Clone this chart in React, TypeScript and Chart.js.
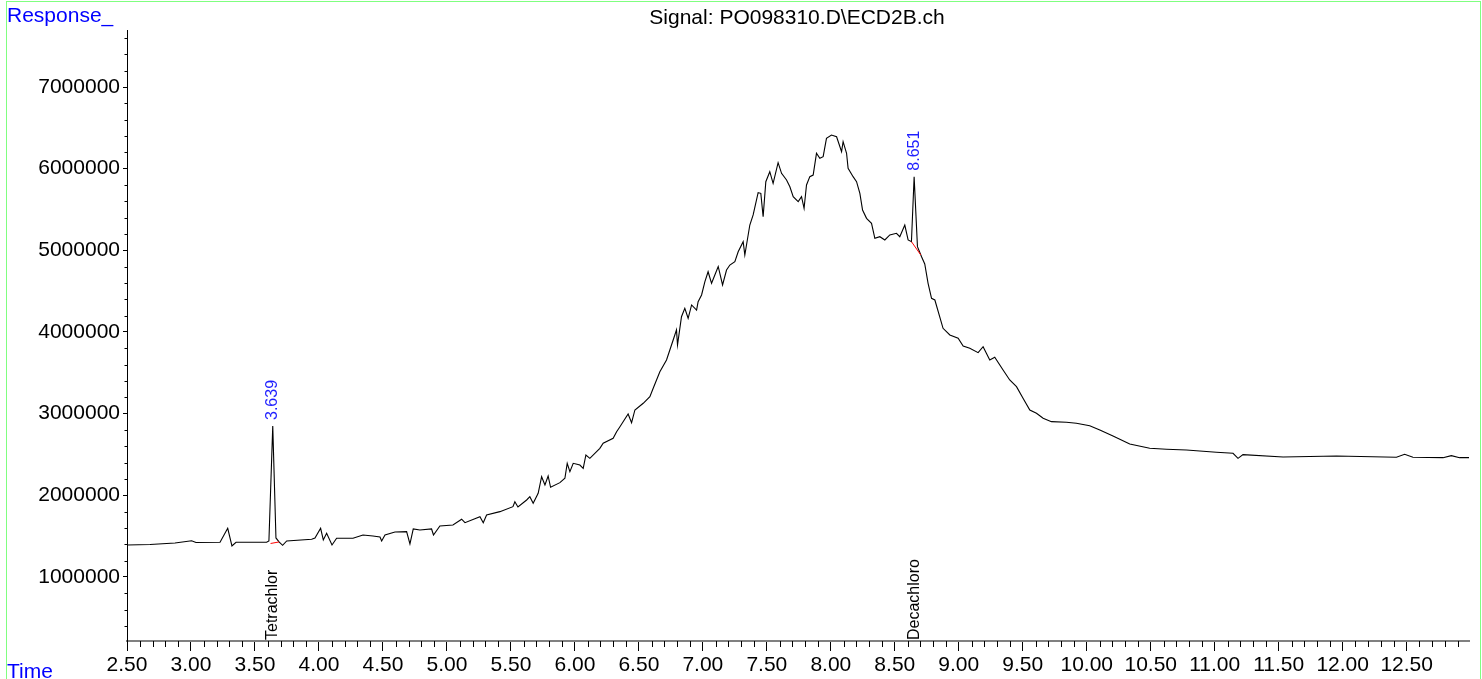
import React, { useEffect, useRef } from "react";
import { Chart, registerables } from "chart.js";

Chart.register(...registerables);

// ---- data ----
const times: number[] = [
  2.5, 2.68, 2.875, 3.005, 3.039, 3.227, 3.287, 3.32, 3.352, 3.591, 3.609, 3.639, 3.664, 3.688, 3.716, 3.748,
  3.943, 3.969, 4.013, 4.034, 4.06, 4.102, 4.138, 4.266, 4.344, 4.422, 4.477, 4.49, 4.516, 4.594, 4.685, 4.711,
  4.737, 4.789, 4.88, 4.895, 4.945, 5.047, 5.115, 5.141, 5.258, 5.284, 5.31, 5.414, 5.516, 5.531, 5.555, 5.623,
  5.648, 5.674, 5.713, 5.74, 5.766, 5.791, 5.81, 5.883, 5.922, 5.94, 5.961, 5.987, 6.039, 6.065, 6.086, 6.117,
  6.195, 6.221, 6.299, 6.326, 6.352, 6.416, 6.443, 6.469, 6.534, 6.586, 6.612, 6.664, 6.716, 6.742, 6.768, 6.794,
  6.802, 6.833, 6.859, 6.885, 6.912, 6.951, 6.963, 6.99, 7.016, 7.041, 7.068, 7.12, 7.154, 7.185, 7.211, 7.25,
  7.276, 7.315, 7.328, 7.367, 7.393, 7.432, 7.453, 7.471, 7.492, 7.523, 7.549, 7.588, 7.615, 7.654, 7.68, 7.706,
  7.745, 7.771, 7.791, 7.81, 7.836, 7.862, 7.888, 7.914, 7.94, 7.966, 8.005, 8.045, 8.084, 8.096, 8.123, 8.135,
  8.174, 8.201, 8.227, 8.248, 8.279, 8.318, 8.344, 8.383, 8.422, 8.461, 8.513, 8.539, 8.578, 8.604, 8.63, 8.651,
  8.677, 8.709, 8.734, 8.76, 8.787, 8.813, 8.877, 8.93, 8.995, 9.034, 9.086, 9.151, 9.19, 9.242, 9.281, 9.346,
  9.398, 9.451, 9.502, 9.555, 9.607, 9.659, 9.724, 9.841, 9.919, 10.023, 10.102, 10.205, 10.336, 10.492, 10.623,
  10.779, 11.013, 11.143, 11.182, 11.221, 11.534, 11.951, 12.42, 12.484, 12.549, 12.784, 12.849, 12.914, 12.987,
];

const responses: number[] = [
  1392000, 1398000, 1416000, 1444000, 1422000, 1425000, 1596000, 1380000, 1425000, 1425000, 1441000, 2849000,
  1478000, 1429000, 1388000, 1441000, 1462000, 1478000, 1596000, 1453000, 1535000, 1392000, 1474000, 1474000,
  1514000, 1502000, 1490000, 1441000, 1514000, 1551000, 1555000, 1404000, 1588000, 1576000, 1588000, 1514000,
  1625000, 1637000, 1707000, 1665000, 1738000, 1665000, 1759000, 1800000, 1861000, 1922000, 1857000, 1943000,
  1983000, 1902000, 2025000, 2228000, 2127000, 2237000, 2098000, 2155000, 2209000, 2392000, 2289000, 2392000,
  2371000, 2331000, 2494000, 2453000, 2576000, 2637000, 2698000, 2779000, 2840000, 2996000, 2889000, 3045000,
  3127000, 3208000, 3311000, 3514000, 3657000, 3780000, 3902000, 4025000, 3841000, 4187000, 4290000, 4168000,
  4331000, 4269000, 4371000, 4453000, 4616000, 4738000, 4596000, 4802000, 4576000, 4759000, 4820000, 4861000,
  4983000, 5106000, 4943000, 5310000, 5433000, 5706000, 5698000, 5412000, 5840000, 5963000, 5821000, 6073000,
  5943000, 5861000, 5779000, 5657000, 5596000, 5657000, 5515000, 5800000, 5902000, 5922000, 6188000, 6127000,
  6147000, 6372000, 6412000, 6391000, 6208000, 6330000, 6188000, 6004000, 5902000, 5841000, 5698000, 5494000,
  5392000, 5331000, 5147000, 5167000, 5127000, 5188000, 5209000, 5167000, 5310000, 5127000, 5106000, 5902000,
  5045000, 4922000, 4833000, 4596000, 4413000, 4392000, 4045000, 3963000, 3923000, 3829000, 3800000, 3747000,
  3820000, 3657000, 3690000, 3535000, 3412000, 3330000, 3188000, 3045000, 3004000, 2943000, 2902000, 2894000,
  2882000, 2853000, 2800000, 2727000, 2629000, 2576000, 2564000, 2555000, 2527000, 2515000, 2453000, 2498000,
  2469000, 2482000, 2466000, 2502000, 2466000, 2461000, 2486000, 2461000, 2461000,
];

// integration baselines (red)
const baseline1Times: number[] = [3.622, 3.688];
const baseline1Values: number[] = [1410000, 1429000];
const baseline2Times: number[] = [8.63, 8.703];
const baseline2Values: number[] = [5106000, 4943000];

// peaks
const peakTimes: number[] = [3.639, 8.651];
const peakHeights: number[] = [2849000, 5902000];
const peakNames: string[] = ["Tetrachlor", "Decachloro"];

// axis ticks
const xTickValues: number[] = [2.5, 3, 3.5, 4, 4.5, 5, 5.5, 6, 6.5, 7, 7.5, 8, 8.5, 9, 9.5, 10, 10.5, 11, 11.5, 12, 12.5];
const yTickValues: number[] = [1000000, 2000000, 3000000, 4000000, 5000000, 6000000, 7000000];

const titleText = "Signal: PO098310.D\\ECD2B.ch";
const yAxisTitle = "Response_";
const xAxisTitle = "Time";

const xMin = 2.5;
const xMax = 12.987;
const yMin = 216000;
const yMax = 7698000;
const xMinorStep = 0.1;
const yMinorStep = 200000;

const FONT = "'Liberation Sans', Arial, Helvetica, sans-serif";

const toPoints = (xs: number[], ys: number[]) => xs.map((x, i) => ({ x, y: ys[i] }));

const isOnMajor = (v: number, majors: number[], eps: number) => majors.some((m) => Math.abs(m - v) < eps);

const overlayPlugin = {
  id: "overlay",
  afterDraw(chart: any) {
    const { ctx, chartArea } = chart;
    const xs = chart.scales.x;
    const ys = chart.scales.y;
    ctx.save();

    // minor ticks
    ctx.strokeStyle = "#000";
    ctx.lineWidth = 1;
    ctx.beginPath();
    const nx0 = Math.ceil(xMin / xMinorStep - 1e-6);
    const nx1 = Math.floor(xMax / xMinorStep + 1e-6);
    for (let i = nx0; i <= nx1; i++) {
      const v = i * xMinorStep;
      if (isOnMajor(v, xTickValues, xMinorStep / 10)) continue;
      const px = Math.round(xs.getPixelForValue(v)) + 0.5;
      ctx.moveTo(px, chartArea.bottom);
      ctx.lineTo(px, chartArea.bottom + 6);
    }
    const ny0 = Math.ceil(yMin / yMinorStep);
    const ny1 = Math.floor(yMax / yMinorStep);
    for (let i = ny0; i <= ny1; i++) {
      const v = i * yMinorStep;
      if (isOnMajor(v, yTickValues, yMinorStep / 10)) continue;
      const py = Math.round(ys.getPixelForValue(v)) + 0.5;
      ctx.moveTo(chartArea.left - 2.5, py);
      ctx.lineTo(chartArea.left, py);
    }
    ctx.stroke();

    // title
    ctx.fillStyle = "#000";
    ctx.font = `21px ${FONT}`;
    ctx.textAlign = "center";
    ctx.textBaseline = "alphabetic";
    ctx.fillText(titleText, 797, 24);

    // axis titles
    ctx.fillStyle = "#0000ff";
    ctx.textAlign = "left";
    ctx.fillText(yAxisTitle, 7, 22);
    ctx.fillText(xAxisTitle, 7, 678);

    // peak labels
    for (let i = 0; i < peakTimes.length; i++) {
      const px = xs.getPixelForValue(peakTimes[i]);
      const py = ys.getPixelForValue(peakHeights[i]);
      ctx.save();
      ctx.translate(px, py - 6);
      ctx.rotate(-Math.PI / 2);
      ctx.fillStyle = "#1f1fff";
      ctx.font = `16px ${FONT}`;
      ctx.textAlign = "left";
      ctx.textBaseline = "middle";
      ctx.fillText(peakTimes[i].toFixed(3), 0, 0);
      ctx.restore();

      ctx.save();
      ctx.translate(px, chartArea.bottom - 1);
      ctx.rotate(-Math.PI / 2);
      ctx.fillStyle = "#000";
      ctx.font = `16px ${FONT}`;
      ctx.textAlign = "left";
      ctx.textBaseline = "middle";
      ctx.fillText(peakNames[i], 0, 0);
      ctx.restore();
    }

    // green frame
    ctx.strokeStyle = "#80ff80";
    ctx.lineWidth = 1;
    ctx.strokeRect(6.5, 1.5, 1474, 720);
    ctx.restore();
  },
};

export default function App() {
  const canvasRef = useRef<HTMLCanvasElement | null>(null);

  useEffect(() => {
    if (!canvasRef.current) return;
    const chart = new Chart(canvasRef.current, {
      type: "line",
      data: {
        datasets: [
          {
            data: toPoints(baseline1Times, baseline1Values),
            borderColor: "#ff0000",
            borderWidth: 1,
            pointRadius: 0,
            order: 0,
          },
          {
            data: toPoints(baseline2Times, baseline2Values),
            borderColor: "#ff0000",
            borderWidth: 1,
            pointRadius: 0,
            order: 0,
          },
          {
            data: toPoints(times, responses),
            borderColor: "#000000",
            borderWidth: 1.1,
            pointRadius: 0,
            tension: 0,
            order: 1,
          },
        ],
      },
      options: {
        animation: false,
        responsive: false,
        events: [],
        layout: { padding: { top: 30, right: 13, left: 0, bottom: 0 } },
        plugins: { legend: { display: false }, tooltip: { enabled: false }, title: { display: false } },
        scales: {
          x: {
            type: "linear",
            min: xMin,
            max: xMax,
            afterFit: (s: any) => {
              s.height = 38;
            },
            afterBuildTicks: (s: any) => {
              s.ticks = xTickValues.map((value) => ({ value }));
            },
            border: { display: true, color: "#808080", width: 2 },
            grid: { drawOnChartArea: false, drawTicks: true, tickLength: 10, color: "#000", tickWidth: 1 },
            ticks: {
              autoSkip: false,
              maxRotation: 0,
              padding: 2,
              color: "#000",
              font: { family: FONT, size: 21 },
              callback: (v: any) => Number(v).toFixed(2),
            },
          },
          y: {
            type: "linear",
            min: yMin,
            max: yMax,
            afterFit: (s: any) => {
              s.width = 127;
            },
            afterBuildTicks: (s: any) => {
              s.ticks = yTickValues.map((value) => ({ value }));
            },
            border: { display: true, color: "#000", width: 1 },
            grid: { drawOnChartArea: false, drawTicks: true, tickLength: 4, color: "#000", tickWidth: 1 },
            ticks: {
              autoSkip: false,
              padding: 3,
              color: "#000",
              font: { family: FONT, size: 21 },
              callback: (v: any) => String(Math.round(Number(v))),
            },
          },
        },
      },
      plugins: [overlayPlugin],
    });
    return () => chart.destroy();
  }, []);

  return (
    <div style={{ position: "fixed", left: 0, top: 0, width: 1482, height: 679, background: "#fff" }}>
      <canvas ref={canvasRef} width={1482} height={679} style={{ width: 1482, height: 679, display: "block" }} />
    </div>
  );
}
